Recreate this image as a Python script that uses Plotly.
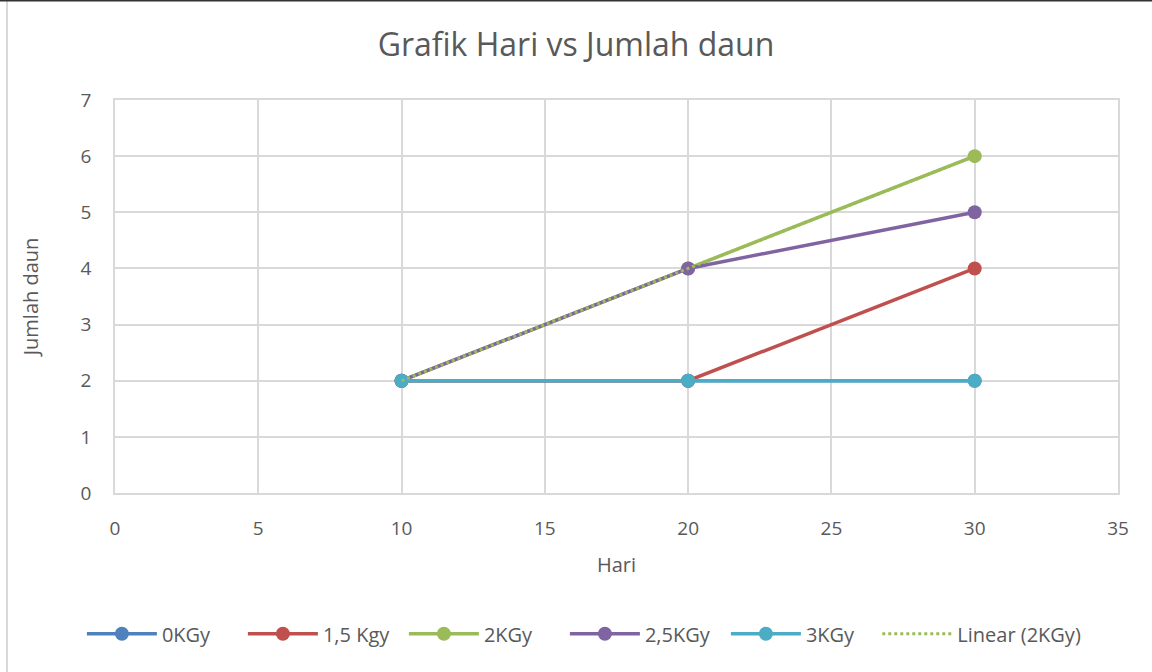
import plotly.graph_objects as go

hari = [10, 20, 30]
series_names = ["0KGy", "1,5 Kgy", "2KGy", "2,5KGy", "3KGy"]
s_0kgy = [2, 2, 2]
s_15kgy = [2, 2, 4]
s_2kgy = [2, 4, 6]
s_25kgy = [2, 4, 5]
s_3kgy = [2, 2, 2]
colors = ["#4F81BD", "#C0504D", "#9BBB59", "#8064A2", "#4BACC6"]
values = [s_0kgy, s_15kgy, s_2kgy, s_25kgy, s_3kgy]

# linear trendline fitted to 2KGy (least squares)
n = len(hari)
mx = sum(hari) / n
my = sum(s_2kgy) / n
slope = sum((x - mx) * (y - my) for x, y in zip(hari, s_2kgy)) / sum((x - mx) ** 2 for x in hari)
icpt = my - slope * mx
trend_y = [icpt + slope * x for x in hari]

FONT = "Open Sans"
TXT = "#595959"

fig = go.Figure()
for name, vals, col in zip(series_names, values, colors):
    fig.add_trace(go.Scatter(
        x=hari, y=vals, name=name, mode="lines+markers",
        line=dict(color=col, width=3.5),
        marker=dict(color=col, size=14),
    ))
fig.add_trace(go.Scatter(
    x=hari, y=trend_y, name="Linear (2KGy)", mode="lines",
    line=dict(color="#9BBB59", width=3, dash="dot"),
    legend="legend2",
))

fig.update_layout(
    width=1152, height=672,
    margin=dict(l=115, r=34, t=100, b=179, autoexpand=False),
    paper_bgcolor="white", plot_bgcolor="white",
    font=dict(family=FONT, color=TXT, size=19),
    title=dict(text="Grafik Hari vs Jumlah daun", x=0.5, xanchor="center",
               y=1 - 45 / 672, yanchor="middle",
               font=dict(family=FONT, size=32, color=TXT)),
    showlegend=True,
    legend=dict(orientation="h", x=-0.033, xanchor="left", y=-0.358, yanchor="middle",
                font=dict(family=FONT, size=20, color=TXT),
                itemwidth=70, entrywidth=76, tracegroupgap=0),
    legend2=dict(orientation="h", x=0.760, xanchor="left", y=-0.358, yanchor="middle",
                 font=dict(family=FONT, size=20, color=TXT),
                 itemwidth=70, tracegroupgap=0),
    xaxis=dict(range=[0, 35], dtick=5, tick0=0, showgrid=True, gridcolor="#D9D9D9",
               gridwidth=1.5, zeroline=False, showline=True, linecolor="#D9D9D9",
               linewidth=1.5, mirror=True, ticks="", ticklabelstandoff=17,
               title=dict(text="Hari", standoff=18, font=dict(size=20, color=TXT)),
               tickfont=dict(size=19, color=TXT)),
    yaxis=dict(range=[0, 7], dtick=1, tick0=0, showgrid=True, gridcolor="#D9D9D9",
               gridwidth=1.5, zeroline=False, showline=True, linecolor="#D9D9D9",
               linewidth=1.5, mirror=True, ticks="", ticklabelstandoff=18,
               title=dict(text="Jumlah daun", standoff=37, font=dict(size=20, color=TXT)),
               tickfont=dict(size=19, color=TXT)),
)

# outer chart border fragments (left light line, top dark line)
fig.add_shape(type="line", xref="paper", yref="paper",
              x0=-108 / 1003, x1=-108 / 1003, y0=-179 / 393, y1=100 / 393 + 1,
              line=dict(color="#D9D9D9", width=2))
fig.add_shape(type="line", xref="paper", yref="paper",
              x0=-115 / 1003, x1=1 + 34 / 1003, y0=1 + 99.5 / 393, y1=1 + 99.5 / 393,
              line=dict(color="#333333", width=2))

fig.write_html("out.html", config={"displayModeBar": False},
               post_script="document.body.style.margin='0';")
